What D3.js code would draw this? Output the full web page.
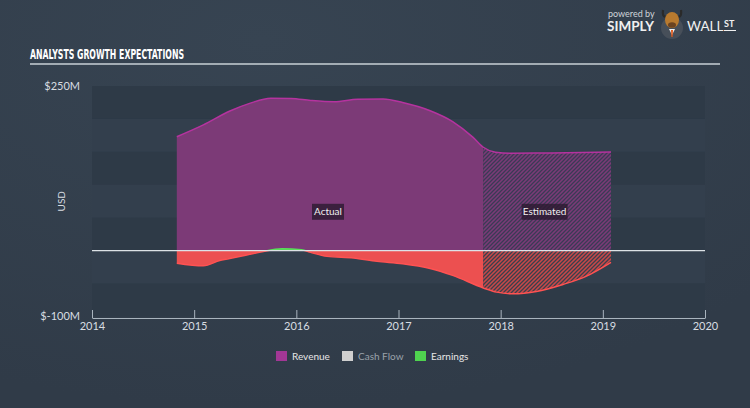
<!DOCTYPE html>
<html><head><meta charset="utf-8">
<script src="https://cdn.jsdelivr.net/npm/d3@7"></script>
<style>
html,body{margin:0;padding:0;background:#333f4c;}
svg{display:block;}
</style></head>
<body>
<script>
// ---- data ----
const yTicks = [250, -100];
const xTicks = [2014, 2015, 2016, 2017, 2018, 2019, 2020];
const bandEdges = [250, 200, 150, 100, 50, 0, -50, -100];
const splitYear = 2017.83;
const revenue = [
  [2014.83, 173], [2015.09, 191], [2015.35, 212], [2015.55, 224], [2015.75, 231.5],
  [2015.95, 231], [2016.14, 228], [2016.37, 226], [2016.6, 229.8], [2016.85, 230.3],
  [2017.04, 225], [2017.31, 212.5], [2017.53, 196], [2017.73, 172], [2017.83, 157],
  [2017.95, 149.5], [2018.1, 148], [2018.5, 148.3], [2019.08, 149.8]
];
const earnings = [
  [2014.83, -19], [2015.09, -23], [2015.25, -15], [2015.42, -9.7], [2015.64, -2.6],
  [2015.86, 3], [2016.05, 1.5], [2016.14, -2.6], [2016.30, -8.7], [2016.56, -11.3],
  [2016.79, -16.3], [2017.04, -19.8], [2017.31, -27], [2017.53, -37.6], [2017.83, -56.6],
  [2017.96, -63], [2018.12, -65.5], [2018.35, -62], [2018.61, -51.3],
  [2018.84, -38.7], [2019.08, -17.8]
];
const legendItems = [
  {name: "Revenue", color: "#a23795", text: "#e6e6e6"},
  {name: "Cash Flow", color: "#cfcfcf", text: "#9aa2aa"},
  {name: "Earnings", color: "#4fd34f", text: "#e6e6e6"}
];

// ---- layout ----
const W = 750, H = 408;
const svg = d3.select("body").append("svg").attr("width", W).attr("height", H);
const defs = svg.append("defs");

const bg = defs.append("radialGradient").attr("id", "bg").attr("cx", "35%").attr("cy", "10%").attr("r", "90%");
bg.append("stop").attr("offset", "0%").attr("stop-color", "#374452");
bg.append("stop").attr("offset", "100%").attr("stop-color", "#303b48");
svg.append("rect").attr("width", W).attr("height", H).attr("fill", "url(#bg)");

function hatch(id, base, stripe) {
  const p = defs.append("pattern").attr("id", id).attr("patternUnits", "userSpaceOnUse")
    .attr("width", 4).attr("height", 4);
  p.append("rect").attr("width", 4).attr("height", 4).attr("fill", base);
  p.append("path").attr("d", "M-1,1 l2,-2 M0,4 l4,-4 M3,5 l2,-2")
    .attr("stroke", stripe).attr("stroke-width", 1.3);
}
hatch("hRev", "#7c3a77", "#3a3a55");
hatch("hEarn", "#c94848", "#3a3f4c");

const x = d3.scaleLinear().domain([2014, 2020]).range([92, 705]);
const y = d3.scaleLinear().domain([-100, 250]).range([316.5, 86]);

// header
svg.append("text").attr("x", 30).attr("y", 59).text("ANALYSTS GROWTH EXPECTATIONS")
  .attr("fill", "#ffffff").attr("font-family", "'Liberation Sans Narrow','DejaVu Sans Condensed',sans-serif")
  .attr("font-weight", "bold").attr("font-size", 14).attr("textLength", 154).attr("lengthAdjust", "spacingAndGlyphs");
svg.append("line").attr("x1", 30).attr("x2", 720).attr("y1", 64).attr("y2", 64)
  .attr("stroke", "#c9d0d6").attr("stroke-width", 1.5);

// logo
svg.append("text").attr("x", 608).attr("y", 17).text("powered by").attr("fill", "#cfd4d9")
  .attr("font-family", "Lato, sans-serif").attr("font-size", 9);
svg.append("text").attr("x", 607).attr("y", 31).text("SIMPLY").attr("fill", "#f0f0f0")
  .attr("font-family", "Lato, sans-serif").attr("font-weight", "bold").attr("font-size", 13.5);
svg.append("text").attr("x", 687).attr("y", 31).text("WALL").attr("fill", "#f0f0f0")
  .attr("font-family", "Lato, sans-serif").attr("font-size", 13.5);
svg.append("text").attr("x", 724).attr("y", 27).text("ST").attr("fill", "#f0f0f0")
  .attr("font-family", "Lato, sans-serif").attr("font-weight", "bold").attr("font-size", 9);
svg.append("line").attr("x1", 724).attr("x2", 736).attr("y1", 30.5).attr("y2", 30.5).attr("stroke", "#f0f0f0").attr("stroke-width", 1);
const logo = svg.append("g").attr("transform", "translate(672,21)");
logo.append("circle").attr("r", 11).attr("cy", 7).attr("fill", "#474f59");
logo.append("path").attr("d", "M-9,-11 Q-10,-4 -6,-4 M9,-11 Q10,-4 6,-4").attr("stroke", "#2a2a2a").attr("stroke-width", 2.2).attr("fill", "none");
logo.append("ellipse").attr("rx", 7).attr("ry", 8).attr("cy", -1).attr("fill", "#b87a2f");
logo.append("ellipse").attr("rx", 4).attr("ry", 2.8).attr("cy", 4).attr("fill", "#6b4320");
logo.append("path").attr("d", "M-3,8 L3,8 L0,14 Z").attr("fill", "#f2f2f2");
logo.append("path").attr("d", "M-1,9 L1,9 L0.6,16 L-0.6,16 Z").attr("fill", "#e25a1c");

// bands
const bands = svg.append("g");
for (let i = 0; i < bandEdges.length - 1; i++) {
  bands.append("rect").attr("x", x(2014)).attr("width", x(2020) - x(2014))
    .attr("y", y(bandEdges[i])).attr("height", y(bandEdges[i + 1]) - y(bandEdges[i]))
    .attr("fill", i % 2 === 0 ? "#2e3a47" : "#333f4d");
}

// y labels
svg.selectAll(".yl").data(yTicks).enter().append("text")
  .attr("x", 80).attr("y", d => y(d) + 3.5).attr("text-anchor", "end")
  .text(d => "$" + d + "M").attr("fill", "#d8dde2")
  .attr("font-family", "Lato, sans-serif").attr("font-size", 11);
svg.append("text").attr("transform", `translate(65,${y(75)}) rotate(-90)`).attr("text-anchor", "middle")
  .text("USD").attr("fill", "#d8dde2").attr("font-family", "Lato, sans-serif").attr("font-size", 10);

// areas
const curve = d3.curveMonotoneX;
const area = d3.area().x(d => x(d[0])).y0(y(0)).y1(d => y(d[1])).curve(curve);
const line = d3.line().x(d => x(d[0])).y(d => y(d[1])).curve(curve);

const xs = x(splitYear);
function clip(id, x0, x1, y0, y1) {
  defs.append("clipPath").attr("id", id).append("rect").attr("x", x0).attr("width", x1 - x0).attr("y", y0).attr("height", y1 - y0);
}
clip("act", 0, xs, 0, H);
clip("est", xs, W, 0, H);
clip("actNeg", 0, xs, y(0), H);
clip("estNeg", xs, W, y(0), H);
clip("pos", 0, W, 0, y(0));

svg.append("path").datum(revenue).attr("d", area).attr("fill", "#7c3a77").attr("clip-path", "url(#act)");
svg.append("path").datum(revenue).attr("d", area).attr("fill", "url(#hRev)").attr("clip-path", "url(#est)");
svg.append("path").datum(revenue).attr("d", line).attr("fill", "none").attr("stroke", "#b5339f").attr("stroke-width", 1.5);

svg.append("path").datum(earnings).attr("d", area).attr("fill", "#ec5050").attr("clip-path", "url(#actNeg)");
svg.append("path").datum(earnings).attr("d", area).attr("fill", "url(#hEarn)").attr("clip-path", "url(#estNeg)");
const eNeg = svg.append("g").attr("clip-path", "url(#neg)");
defs.append("clipPath").attr("id", "neg").append("rect").attr("x", 0).attr("width", W).attr("y", y(0)).attr("height", H);
eNeg.append("path").datum(earnings).attr("d", line).attr("fill", "none").attr("stroke", "#ff5252").attr("stroke-width", 1.5);
const ePos = svg.append("g").attr("clip-path", "url(#pos)");
ePos.append("path").datum(earnings).attr("d", area).attr("fill", "#4fd34f");
ePos.append("path").datum(earnings).attr("d", line).attr("fill", "none").attr("stroke", "#5be05b").attr("stroke-width", 1.5);

// zero line
svg.append("line").attr("x1", x(2014)).attr("x2", x(2020)).attr("y1", y(0)).attr("y2", y(0))
  .attr("stroke", "#dde2e6").attr("stroke-width", 1.2);

// labels Actual / Estimated
function tag(cx, cy, t, w) {
  svg.append("rect").attr("x", cx - w / 2).attr("y", cy - 8).attr("width", w).attr("height", 16)
    .attr("fill", "#2a1a30").attr("opacity", 0.8);
  svg.append("text").attr("x", cx).attr("y", cy + 3.5).attr("text-anchor", "middle").text(t)
    .attr("fill", "#f0f0f0").attr("font-family", "Lato, sans-serif").attr("font-size", 10);
}
tag(x(2016.31), y(59), "Actual", 32);
tag(x(2018.43), y(59), "Estimated", 46);

// x axis
const xa = svg.append("g").attr("transform", `translate(0,${318})`)
  .call(d3.axisBottom(x).tickValues(xTicks).tickFormat(d3.format("d")).tickSize(-8).tickPadding(6).tickSizeOuter(0));
xa.select(".domain").attr("stroke", "#a9b4be");
xa.selectAll(".tick line").attr("stroke", "#a9b4be").attr("y1", -8).attr("y2", 0);
xa.selectAll(".tick text").attr("fill", "#d8dde2").attr("font-family", "Lato, sans-serif").attr("font-size", 11).attr("dy", "1.1em").attr("y", 0);

// legend
const lg = svg.append("g");
const lx = [276, 342, 415];
legendItems.forEach((it, i) => {
  lg.append("rect").attr("x", lx[i]).attr("y", 351).attr("width", 11).attr("height", 10).attr("fill", it.color);
  lg.append("text").attr("x", lx[i] + 16).attr("y", 360).text(it.name).attr("fill", it.text)
    .attr("font-family", "Lato, sans-serif").attr("font-size", 10);
});
</script>
</body></html>
